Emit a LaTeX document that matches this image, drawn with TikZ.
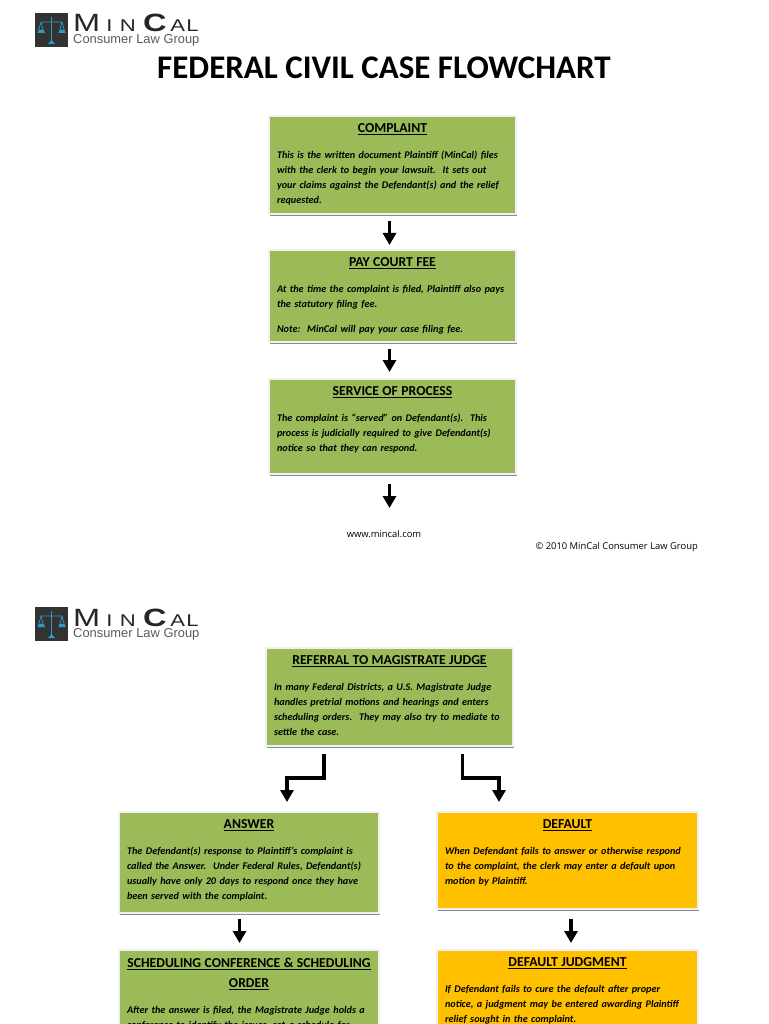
\documentclass[tikz,border=0pt]{standalone}
\usepackage{fontspec}
\setmainfont{Carlito}
\newfontfamily\logofont{Liberation Sans}
\newfontfamily\footfont{Open Sans}
\usetikzlibrary{arrows.meta,positioning,shadows}
\definecolor{boxgreen}{HTML}{9BBB59}
\definecolor{boxamber}{HTML}{FFC000}
\definecolor{logoblue}{HTML}{2E9CC4}
\newcommand{\boxhead}[1]{{\centering\fontsize{13.7}{20}\selectfont\bfseries\upshape #1\par}\vspace{11pt}}
\tikzset{
	pics/mincallogo/.style={code={
		\fill[black!80] (35,13) rectangle (68,47);
		\draw[logoblue,line width=.7pt] (51.5,17)--(51.5,43) (41,22)--(62,22) (41,22)--(38,33) (41,22)--(44,33) (62,22)--(59,33) (62,22)--(65,33);
		\fill[logoblue] (38,33) arc[start angle=180,end angle=360,radius=3.5] --cycle;
		\fill[logoblue] (58.5,33) arc[start angle=180,end angle=360,radius=3.5] --cycle;
		\fill[logoblue] (48,44)--(55,44)--(51.5,40)--cycle;
		\node[anchor=base west,inner sep=0pt,text=black!85] (-name) at (73,32) {\scalebox{1.3}[1]{\logofont\fontsize{25}{25}\selectfont M\fontsize{17}{17}\selectfont\ I\,\,N\,\,\fontsize{25}{25}\selectfont\bfseries C\mdseries\fontsize{17}{17}\selectfont\,A\kern1pt L}};
		\node[anchor=base west,inner sep=0pt,text=black!65] (-group) at (73,43.5) {\logofont\fontsize{12.9}{13}\selectfont Consumer Law Group};
	}},
	box/.style={draw=black!6,line width=2pt,anchor=north,inner xsep=8pt,inner ysep=8pt,text width=231pt,
		font=\fontsize{10.2}{15}\selectfont\bfseries\itshape,drop shadow={shadow xshift=1pt,shadow yshift=-2pt,fill=black!45,opacity=1}},
	greenbox/.style={box,fill=boxgreen},
	amberbox/.style={box,fill=boxamber},
	arrow/.style={-{Triangle[width=13pt,length=12pt]},line width=3.6pt,black},
	footer/.style={inner sep=0pt,font=\footfont\fontsize{9.4}{11}\selectfont}
}
\begin{document}
\begin{tikzpicture}[x=1pt,y=-1pt]
	\useasboundingbox (0,0) rectangle (768,1024);
	\clip (0,0) rectangle (768,1024);
	\pic (logotop) at (0,0) {mincallogo};
	\pic (logomid) at (0,594) {mincallogo};
	\node[inner sep=0pt,font=\fontsize{33}{35}\selectfont\bfseries] (title) at (384,68) {FEDERAL CIVIL CASE FLOWCHART};
	% first sheet
	\node[greenbox,text depth=73pt] (complaint) at (392.5,115) {\boxhead{\underline{COMPLAINT}}\raggedright This is the written document Plaintiff (MinCal) files\\with the clerk to begin your lawsuit.\ \ It sets out\\your claims against the Defendant(s) and the relief\\requested.};
	\node[greenbox,text depth=67pt] (courtfee) at (392.5,249) {\boxhead{\underline{PAY COURT FEE}}\raggedright At the time the complaint is filed, Plaintiff also pays\\the statutory filing fee.\\[10pt]Note:\ \ MinCal will pay your case filing fee.};
	\node[greenbox,text depth=70pt] (service) at (392.5,378) {\boxhead{\underline{SERVICE OF PROCESS}}\raggedright The complaint is ``served'' on Defendant(s).\ \ This\\process is judicially required to give Defendant(s)\\notice so that they can respond.};
	\coordinate (serviceend) at (389.5,508);
	\node[footer] (website) at (384,534) {www.mincal.com};
	\node[footer,anchor=east] (copyright) at (698,547) {© 2010 MinCal Consumer Law Group};
	% second sheet
	\node[greenbox,text depth=73pt] (referral) at (389.5,647) {\boxhead{\underline{REFERRAL TO MAGISTRATE JUDGE}}\raggedright In many Federal Districts, a U.S. Magistrate Judge\\handles pretrial motions and hearings and enters\\scheduling orders.\ \ They may also try to mediate to\\settle the case.};
	\node[greenbox,text width=244pt,text depth=76pt] (answer) at (249,811) {\boxhead{\underline{ANSWER}}\raggedright The Defendant(s) response to Plaintiff's complaint is\\called the Answer.\ \ Under Federal Rules, Defendant(s)\\usually have only 20 days to respond once they have\\been served with the complaint.};
	\node[amberbox,text width=245pt,text depth=72pt] (default) at (567.5,811) {\boxhead{\underline{DEFAULT}}\raggedright When Defendant fails to answer or otherwise respond\\to the complaint, the clerk may enter a default upon\\motion by Plaintiff.};
	\node[greenbox,text width=244pt,text depth=90pt] (scheduling) at (249,949) {\boxhead{\underline{SCHEDULING CONFERENCE \& SCHEDULING}\\\underline{ORDER}}\raggedright After the answer is filed, the Magistrate Judge holds a\\conference to identify the issues, set a schedule for};
	\node[amberbox,text width=245pt,text depth=90pt] (defaultjudgment) at (567.5,949) {\boxhead{\underline{DEFAULT JUDGMENT}}\raggedright If Defendant fails to cure the default after proper\\notice, a judgment may be entered awarding Plaintiff\\relief sought in the complaint.};
	% connectors
	\draw[arrow,shorten <=6pt,shorten >=4pt] ([xshift=-3pt]complaint.south)--([xshift=-3pt]courtfee.north);
	\draw[arrow,shorten <=6pt,shorten >=6pt] ([xshift=-3pt]courtfee.south)--([xshift=-3pt]service.north);
	\draw[arrow,shorten <=9pt] ([xshift=-3pt]service.south)--(serviceend);
	\draw[arrow,shorten <=7pt,shorten >=9pt] ([xshift=-65.5pt]referral.south)|-(287,778)--(287,778|-answer.north);
	\draw[arrow,shorten <=7pt,shorten >=9pt] ([xshift=73pt]referral.south)|-(499,778)--(499,778|-default.north);
	\draw[arrow,shorten <=5pt,shorten >=6pt] ([xshift=-9.5pt]answer.south)--([xshift=-9.5pt]scheduling.north);
	\draw[arrow,shorten <=9pt,shorten >=6pt] ([xshift=3.5pt]default.south)--([xshift=3.5pt]defaultjudgment.north);
\end{tikzpicture}
\end{document}
